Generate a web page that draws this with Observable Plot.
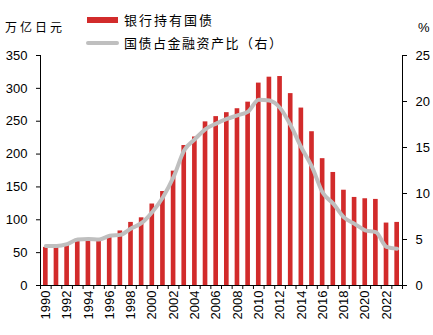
<!DOCTYPE html>
<html><head><meta charset="utf-8">
<script src="https://cdn.jsdelivr.net/npm/d3@7"></script>
<script src="https://cdn.jsdelivr.net/npm/@observablehq/plot@0.6"></script>
<style>
body{margin:0;background:#fff;}
#wrap{position:relative;width:433px;height:335px;background:#fff;}
#wrap svg{position:absolute;left:0;top:0;}
.t{position:absolute;font-family:"Noto Sans CJK SC",sans-serif;color:#000;white-space:nowrap;line-height:1;}
.sw{position:absolute;}
</style></head><body><div id="wrap"></div>
<script>
const years = [1990,1991,1992,1993,1994,1995,1996,1997,1998,1999,2000,2001,2002,2003,2004,2005,2006,2007,2008,2009,2010,2011,2012,2013,2014,2015,2016,2017,2018,2019,2020,2021,2022,2023];
const bankHoldings = [58,58,61,68,69,70,74,83,96,103,124,143,174,213,226,249,257,263,269,279,308,317,318,292,270,234,193,172,145,134,132,131,95,96];
const jgbShare = [4.3,4.3,4.5,5.0,5.05,5.0,5.4,5.5,6.2,6.8,8.0,9.6,11.8,14.7,15.9,17.0,17.6,18.1,18.5,18.9,20.2,20.1,19.3,17.4,15.0,12.9,10.1,8.9,7.4,6.7,6.0,5.8,4.2,4.0];
const leftTicks = [0,50,100,150,200,250,300,350];
const rightTicks = [0,5,10,15,20,25];
const yearLabels = [1990,1992,1994,1996,1998,2000,2002,2004,2006,2008,2010,2012,2014,2016,2018,2020,2022];
const seriesNames = ["银行持有国债","国债占金融资产比（右）"];
const leftUnit = "万亿日元";
const rightUnit = "%";

const K = leftTicks[leftTicks.length-1] / rightTicks[rightTicks.length-1];
const data = years.map((y,i)=>({year:y, hold:bankHoldings[i], share:jgbShare[i]}));
const x0 = years[0]-0.5, x1 = years[years.length-1]+0.5;
const edges = years.map(y=>y-0.5).concat([x1]);

const chart = Plot.plot({
  width:433, height:335,
  marginLeft:40, marginRight:31, marginTop:55, marginBottom:50,
  style:{fontFamily:"'Liberation Sans', Arial, sans-serif", fontSize:"13px", color:"#000", background:"#fff"},
  x:{type:"linear", domain:[x0, x1]},
  y:{domain:[0, 350]},
  marks:[
    Plot.rectY(data,{x1:d=>d.year-0.5, x2:d=>d.year+0.5, y:"hold", fill:"#d22b2b", insetLeft:3, insetRight:3}),
    Plot.line(data,{x:"year", y:d=>d.share*K, stroke:"#bfbfbf", strokeWidth:4, curve:"monotone-x"}),
    Plot.ruleX([x0],{y1:0, y2:350, stroke:"#000", strokeWidth:1}),
    Plot.ruleX([x1],{y1:0, y2:350, stroke:"#000", strokeWidth:1}),
    Plot.ruleY([0],{stroke:"#000", strokeWidth:1}),
    Plot.axisY({anchor:"left", ticks:leftTicks, tickSize:4, tickPadding:9, tickFormat:d=>String(d), label:null}),
    Plot.axisY({anchor:"right", ticks:rightTicks.map(v=>v*K), tickSize:4, tickPadding:9, tickFormat:d=>String(Math.round(d/K)), label:null}),
    Plot.axisX({ticks:edges, tickSize:4, tickFormat:()=>"", label:null}),
    Plot.axisX({ticks:yearLabels, tickSize:0, tickPadding:5, tickRotate:-90, tickFormat:d=>String(d), label:null})
  ]
});
const wrap = document.getElementById("wrap");
wrap.appendChild(chart);

function addText(txt, left, top, size, ls, fam){
  const s = document.createElement("div");
  s.className = "t";
  s.textContent = txt;
  s.style.left = left+"px"; s.style.top = top+"px";
  s.style.fontSize = size+"px"; s.style.letterSpacing = ls+"px";
  if (fam) s.style.fontFamily = fam;
  wrap.appendChild(s);
}
function addBox(left, top, w, h, color, r){
  const b = document.createElement("div");
  b.className = "sw";
  b.style.left = left+"px"; b.style.top = top+"px";
  b.style.width = w+"px"; b.style.height = h+"px";
  b.style.background = color; b.style.borderRadius = (r||0)+"px";
  wrap.appendChild(b);
}
addText(leftUnit, 5, 21, 12, 3);
addText(rightUnit, 418, 21, 13, 0, "'Liberation Sans', Arial, sans-serif");
addBox(87, 17, 31, 6, "#d22b2b");
addText(seriesNames[0], 124, 13, 13, 2);
addBox(86, 41, 33, 4, "#bfbfbf", 2);
addText(seriesNames[1], 124, 36, 13, 1.5);
</script></body></html>
